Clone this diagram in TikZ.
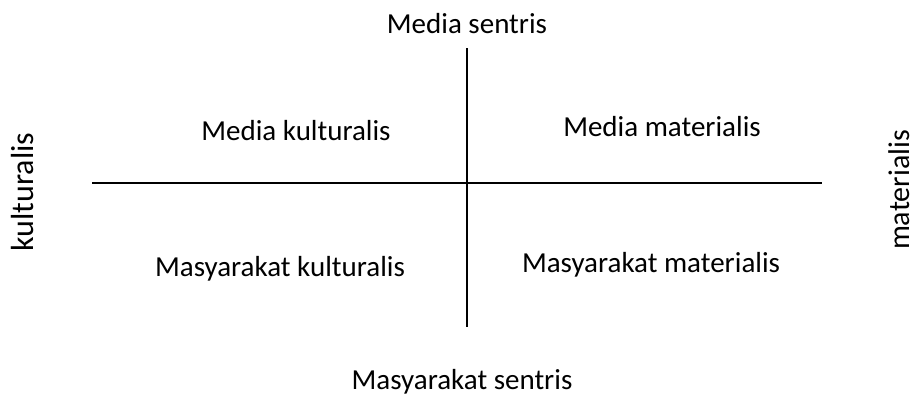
\documentclass[tikz,border=0pt]{standalone}
\usepackage{fontspec}
\setmainfont{Carlito}
\begin{document}
\begin{tikzpicture}[x=1pt,y=-1pt,
  lbl/.style={inner sep=0pt,font=\fontsize{29}{33}\selectfont},
  side/.style={inner sep=0pt,font=\fontsize{30}{34}\selectfont,rotate=90},
  axis/.style={draw=black,line width=1.3pt}]
\useasboundingbox (0,0) rectangle (916,400);
\node[lbl] (top) at (467,24) {Media sentris};
\node[lbl] (bot) at (462,382) {Masyarakat sentris};
\node[lbl] (mk) at (296,131) {Media kulturalis};
\node[lbl] (mm) at (662,127) {Media materialis};
\node[lbl] (sk) at (280,269) {Masyarakat kulturalis};
\node[lbl] (sm) at (651,265) {Masyarakat materialis};
\node[side,font=\fontsize{32}{36}\selectfont] (kl) at (23,192) {kulturalis};
\node[side] (ml) at (899,190) {materialis};
\coordinate (vt) at (467,48);
\coordinate (vb) at (467,327);
\coordinate (hl) at (92,183);
\coordinate (hr) at (822,183);
\draw[axis,line width=1.1pt] (vt) -- (vb);
\draw[axis,line width=1.5pt] (hl) -- (hr);
\end{tikzpicture}
\end{document}
